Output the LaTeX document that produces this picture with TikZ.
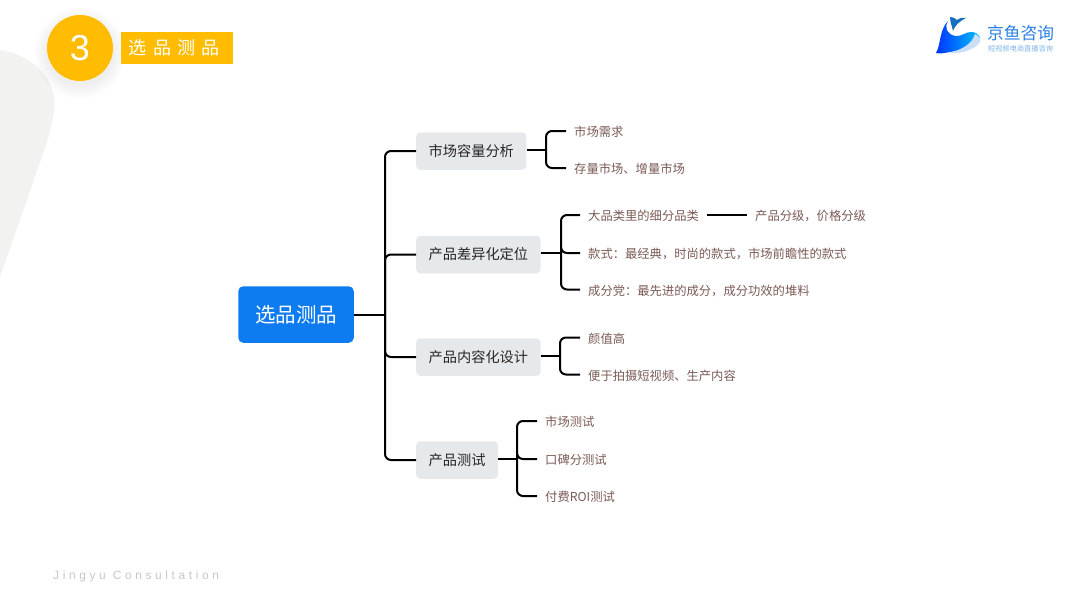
\documentclass[tikz,border=0pt]{standalone}
\usepackage{fontspec}
\setmainfont{Noto Sans CJK SC}
\newfontfamily\latinfont{Liberation Sans}
\newfontfamily\footfont[LetterSpace=30]{Liberation Sans}
\newfontfamily\tagfont[LetterSpace=35]{Noto Sans CJK SC}
\definecolor{rootblue}{HTML}{0F7BF0}
\definecolor{catgray}{HTML}{E6E9EC}
\definecolor{leafbrown}{HTML}{7A5A55}
\definecolor{tagyellow}{HTML}{FFBC00}
\definecolor{blobgray}{HTML}{F2F2F0}
\definecolor{logoblue}{HTML}{2A7FE0}
\tikzset{
  rootbox/.style={fill=rootblue,rounded corners=5pt,minimum width=115.5pt,minimum height=56.5pt,
    inner sep=0pt,text=white,text height=16.4pt,text depth=0.8pt,
    font=\fontsize{20.5}{24}\selectfont},
  catbox/.style={fill=catgray,rounded corners=4pt,minimum height=37.5pt,anchor=west,inner xsep=12.5pt,
    inner ysep=0pt,text=black!85,text height=11.4pt,text depth=0.6pt,
    font=\fontsize{14.2}{17}\selectfont},
  leaf/.style={anchor=west,inner xsep=8pt,inner ysep=0pt,text=leafbrown,text height=11.8pt,
    text depth=0.5pt,font=\fontsize{12.3}{15}\selectfont},
  link/.style={line width=2pt,black},
  elbow/.style={link,rounded corners=6pt}
}
\begin{document}
\begin{tikzpicture}[x=1pt,y=-1pt]
  \useasboundingbox (0,0) rectangle (1080,608);
  % background shape
  \fill[blobgray] (0,50) .. controls (32,54) and (60,82) .. (54,112) .. controls (52,122) and (50,134) .. (45,148) -- (0,277) -- cycle;
  % header
  \foreach \i in {1,...,8}
    \fill[black,opacity=0.009] (80,53) circle ({32+\i*1.7});
  \node[circle,fill=tagyellow,minimum size=66pt,inner sep=0pt,text=white,
    font=\latinfont\fontsize{36}{40}\selectfont] (badge) at (80,48) {3};
  \node[fill=tagyellow,anchor=west,minimum width=112pt,minimum height=32pt,inner sep=0pt,text=white,
    text height=14.4pt,text depth=0.7pt,font=\tagfont\fontsize{18}{20}\selectfont] (tag) at (120.5,48) {选品测品\kern5pt};
  % logo
  \shade[left color=blue!80!cyan,right color=cyan!75!blue] (936,53) .. controls (941,45) and (939,30) .. (948,21)
    .. controls (944,28) and (947,34) .. (955,36) .. controls (962,37) and (966,31) .. (973,32)
    .. controls (977,33) and (980,36) .. (980,38) .. controls (975,44) and (965,50) .. (950,52)
    .. controls (945,53) and (940,54) .. (936,53) -- cycle;
  \fill[logoblue!25!white] (948,53) .. controls (962,50) and (972,44) .. (975,34) .. controls (980,36) and (981,40) .. (980,42)
    .. controls (976,48) and (965,54) .. (948,53) -- cycle;
  \fill[cyan!50!blue] (950,17) .. controls (953,17) and (955,18) .. (957,20) .. controls (960,18) and (963,17) .. (966,18)
    .. controls (960,21) and (955,25) .. (953,31) .. controls (952,26) and (950,22) .. (950,17) -- cycle;
  \node[anchor=west,inner sep=0pt,text=logoblue,font=\fontsize{16.75}{18}\selectfont] (logotext) at (987,33) {京鱼咨询};
  \node[anchor=west,inner sep=0pt,text=logoblue!60!white,font=\fontsize{7.2}{8}\selectfont] (logosub) at (988,49) {短视频电商直播咨询};
  % footer
  \node[anchor=west,inner sep=0pt,text=black!22,font=\footfont\fontsize{12}{14}\selectfont] (foot) at (53,576) {Jingyu Consultation};
  % root and categories
  \node[rootbox] (root) at (296,314.5) {选品测品};
  \coordinate (trunk) at (385,314.5);
  \draw[link] (root.east) -- (trunk);
  \foreach \name/\y/\txt in {
    catA/151/市场容量分析,
    catB/254.5/产品差异化定位,
    catC/357/产品内容化设计,
    catD/460/产品测试
  }{
    \node[catbox] (\name) at (416,\y) {\txt};
    \draw[elbow] (trunk) |- (\name.west);
  }
  % junctions behind each category
  \coordinate (stemA) at (546,150);
  \coordinate (stemB) at (561,253);
  \coordinate (stemC) at (560,356);
  \coordinate (stemD) at (517,459);
  % leaves
  \foreach \name/\stem/\x/\y/\txt in {
    leafAa/stemA/566/131/市场需求,
    leafAb/stemA/566/168/存量市场、增量市场,
    leafBa/stemB/580/215/大品类里的细分品类,
    leafBb/stemB/580/253/款式：最经典，时尚的款式，市场前瞻性的款式,
    leafBc/stemB/580/289.5/成分党：最先进的成分，成分功效的堆料,
    leafCa/stemC/580/337.5/颜值高,
    leafCb/stemC/580/374.5/便于拍摄短视频、生产内容,
    leafDa/stemD/537/421/市场测试,
    leafDb/stemD/537/459/口碑分测试,
    leafDc/stemD/537/496/付费ROI测试
  }{
    \node[leaf] (\name) at (\x,\y) {\txt};
    \draw[elbow] (\stem) |- (\name.west);
  }
  \node[leaf] (leafBx) at (747,215) {产品分级，价格分级};
  % connectors
  \draw[link] (catA.east |- stemA) -- (stemA);
  \draw[link] (catB.east |- stemB) -- (stemB);
  \draw[link] (catC.east |- stemC) -- (stemC);
  \draw[link] (catD.east |- stemD) -- (stemD);
  \draw[link] (leafBa.east) -- (leafBx.west);
\end{tikzpicture}
\end{document}
